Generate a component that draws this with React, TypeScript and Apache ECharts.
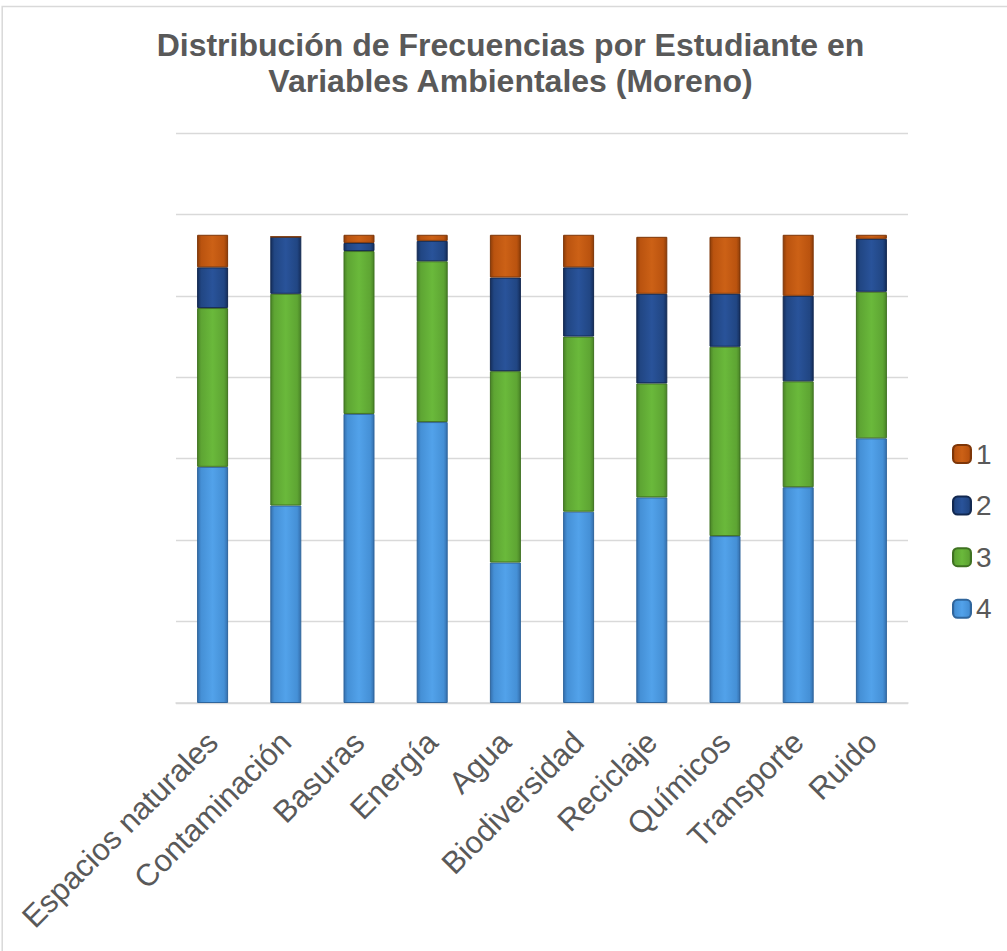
import React, { useEffect, useRef } from "react";
import * as echarts from "echarts";

const categories = [
  "Espacios naturales",
  "Contaminación",
  "Basuras",
  "Energía",
  "Agua",
  "Biodiversidad",
  "Reciclaje",
  "Químicos",
  "Transporte",
  "Ruido",
];

const serie4 = [11.6, 9.7, 14.2, 13.8, 6.9, 9.4, 10.1, 8.2, 10.6, 13.0];
const serie3 = [7.8, 10.4, 8.0, 7.9, 9.4, 8.6, 5.6, 9.3, 5.2, 7.2];
const serie2 = [2.0, 2.8, 0.4, 1.0, 4.6, 3.4, 4.4, 2.6, 4.2, 2.6];
const serie1 = [1.6, 0.0, 0.4, 0.3, 2.1, 1.6, 2.8, 2.8, 3.0, 0.2];

const legendNames = ["1", "2", "3", "4"];

const titleText = "Distribución de Frecuencias por Estudiante en\nVariables Ambientales (Moreno)";

const FONT = "'Liberation Sans', Arial, sans-serif";
const TEXT = "#595959";

function grad(edge: string, mid: string, light: string) {
  return new echarts.graphic.LinearGradient(0, 0, 1, 0, [
    { offset: 0, color: edge },
    { offset: 0.12, color: mid },
    { offset: 0.5, color: light },
    { offset: 0.88, color: mid },
    { offset: 1, color: edge },
  ]);
}

export default function App() {
  const ref = useRef<HTMLDivElement>(null);

  useEffect(() => {
    if (!ref.current) return;
    const chart = echarts.init(ref.current, null, { renderer: "svg" });

    const mk = (name: string, data: number[], edge: string, mid: string, light: string, border: string) => ({
      name,
      type: "bar",
      stack: "total",
      barWidth: 31,
      data,
      itemStyle: {
        color: grad(edge, mid, light),
        borderColor: border,
        borderWidth: 1,
      },
      emphasis: { disabled: true },
    });

    chart.setOption({
      animation: false,
      backgroundColor: "#ffffff",
      title: {
        text: titleText,
        left: 510.5,
        top: 27,
        padding: 0,
        textAlign: "center",
        textStyle: {
          fontFamily: FONT,
          fontSize: 32,
          fontWeight: "bold",
          color: TEXT,
          lineHeight: 36,
        },
      },
      graphic: [
        {
          type: "rect",
          shape: { x: 2.2, y: 6.5, width: 1100, height: 1000 },
          style: { fill: "none", stroke: "#d9d9d9", lineWidth: 1.5 },
          silent: true,
          z: -10,
        },
      ],
      legend: {
        orient: "vertical",
        left: 952,
        top: 440,
        padding: 0,
        itemWidth: 18,
        itemHeight: 18,
        itemGap: 23.6,
        data: legendNames,
        textStyle: {
          fontFamily: FONT,
          fontSize: 28,
          color: TEXT,
          lineHeight: 28,
        },
      },
      grid: {
        left: 176,
        right: 99,
        top: 133,
        bottom: 248,
        containLabel: false,
      },
      xAxis: {
        type: "category",
        data: categories,
        axisLine: { lineStyle: { color: "#d9d9d9", width: 1.5 } },
        axisTick: { show: false },
        axisLabel: {
          rotate: 45,
          interval: 0,
          margin: 34,
          fontFamily: FONT,
          fontSize: 31,
          color: TEXT,
        },
      },
      yAxis: {
        type: "value",
        min: 0,
        max: 28,
        interval: 4,
        axisLabel: { show: false },
        axisLine: { show: false },
        axisTick: { show: false },
        splitLine: { lineStyle: { color: "#d9d9d9", width: 1.3 } },
      },
      series: [
        mk("4", serie4, "#3570AE", "#4590D6", "#52A2EA", "#2F659C"),
        mk("3", serie3, "#4A8427", "#5EA533", "#6AB93B", "#3F7221"),
        mk("2", serie2, "#152E5C", "#214683", "#29539A", "#122850"),
        mk("1", serie1, "#8E3E09", "#BA530F", "#CC6116", "#7E3608"),
      ],
    });

    return () => chart.dispose();
  }, []);

  return (
    <div
      ref={ref}
      style={{ position: "fixed", left: 0, top: 0, width: 1007, height: 951 }}
    />
  );
}
